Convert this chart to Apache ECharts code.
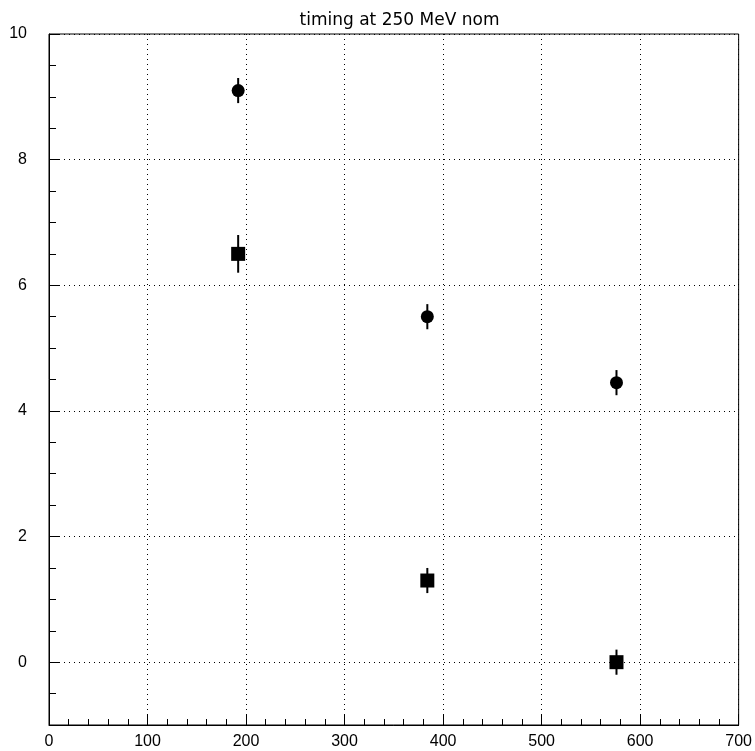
<!DOCTYPE html>
<html>
<head>
<meta charset="utf-8">
<script src="https://cdn.jsdelivr.net/npm/echarts@6/dist/echarts.min.js"></script>
<style>
html,body{margin:0;padding:0;background:#fff;}
#chart{width:755px;height:751px;}
</style>
</head>
<body>
<div id="chart"></div>
<script>
// ---- data ----
const titleText = "timing at 250 MeV nom";
const xValues = [192, 384, 576];
const circleY = [9.1, 5.5, 4.45];
const circleErr = [0.2, 0.2, 0.2];
const squareY = [6.5, 1.3, 0.0];
const squareErr = [0.3, 0.2, 0.2];
const yMajorTicks = [0, 2, 4, 6, 8, 10];
const xMin = 0, xMax = 700, xStep = 100;
const yMin = -1, yMax = 10, yMinorStep = 0.5;

const circleData = xValues.map((x, i) => [x, circleY[i]]);
const squareData = xValues.map((x, i) => [x, squareY[i]]);
const errData = xValues.map((x, i) => [x, circleY[i] - circleErr[i], circleY[i] + circleErr[i]])
  .concat(xValues.map((x, i) => [x, squareY[i] - squareErr[i], squareY[i] + squareErr[i]]));

const labelFont = {color: '#000', fontFamily: 'Liberation Sans', fontSize: 16};
const dotted = {color: '#000', width: 1, type: [1, 4]};

const chart = echarts.init(document.getElementById('chart'), null, {renderer: 'canvas'});
chart.setOption({
  animation: false,
  backgroundColor: '#fff',
  title: {
    text: titleText, left: 394.5, textAlign: 'center', top: 7,
    textStyle: {fontFamily: 'DejaVu Sans', fontSize: 17, fontWeight: 'normal', color: '#000'}
  },
  grid: {left: 49, right: 15, top: 34, bottom: 26, show: true, borderColor: '#000', borderWidth: 1, backgroundColor: 'transparent'},
  xAxis: {
    type: 'value', min: xMin, max: xMax, interval: xStep,
    axisLine: {show: true, onZero: false, lineStyle: {color: '#000', width: 1}},
    axisTick: {show: true, inside: true, length: 10, lineStyle: {color: '#000', width: 1}},
    minorTick: {show: true, splitNumber: 5, length: 6, lineStyle: {color: '#000', width: 1}},
    axisLabel: Object.assign({margin: 9}, labelFont),
    splitLine: {show: true, lineStyle: dotted}
  },
  yAxis: [{
    type: 'value', min: yMin, max: yMax,
    axisLine: {show: true, onZero: false, lineStyle: {color: '#000', width: 1}},
    axisTick: {show: true, inside: true, length: 10, customValues: yMajorTicks, lineStyle: {color: '#000', width: 1}},
    axisLabel: Object.assign({margin: 22, customValues: yMajorTicks, showMinLabel: true, showMaxLabel: true}, labelFont),
    splitLine: {show: true, lineStyle: dotted}
  }, {
    type: 'value', min: yMin, max: yMax, interval: yMinorStep, position: 'left',
    axisLine: {show: false, onZero: false},
    axisTick: {show: true, inside: true, length: 7, lineStyle: {color: '#000', width: 1}},
    axisLabel: {show: false},
    splitLine: {show: false}
  }],
  series: [{
    type: 'custom',
    data: errData,
    renderItem: function (params, api) {
      const a = api.coord([api.value(0), api.value(1)]);
      const b = api.coord([api.value(0), api.value(2)]);
      return {type: 'line', shape: {x1: a[0], y1: a[1], x2: b[0], y2: b[1]}, style: {stroke: '#000', lineWidth: 2}};
    },
    z: 3
  }, {
    type: 'scatter', data: circleData, symbol: 'circle', symbolSize: 13,
    itemStyle: {color: '#000', opacity: 1}, z: 4
  }, {
    type: 'scatter', data: squareData, symbol: 'rect', symbolSize: 14,
    itemStyle: {color: '#000', opacity: 1}, z: 4
  }]
});
</script>
</body>
</html>
